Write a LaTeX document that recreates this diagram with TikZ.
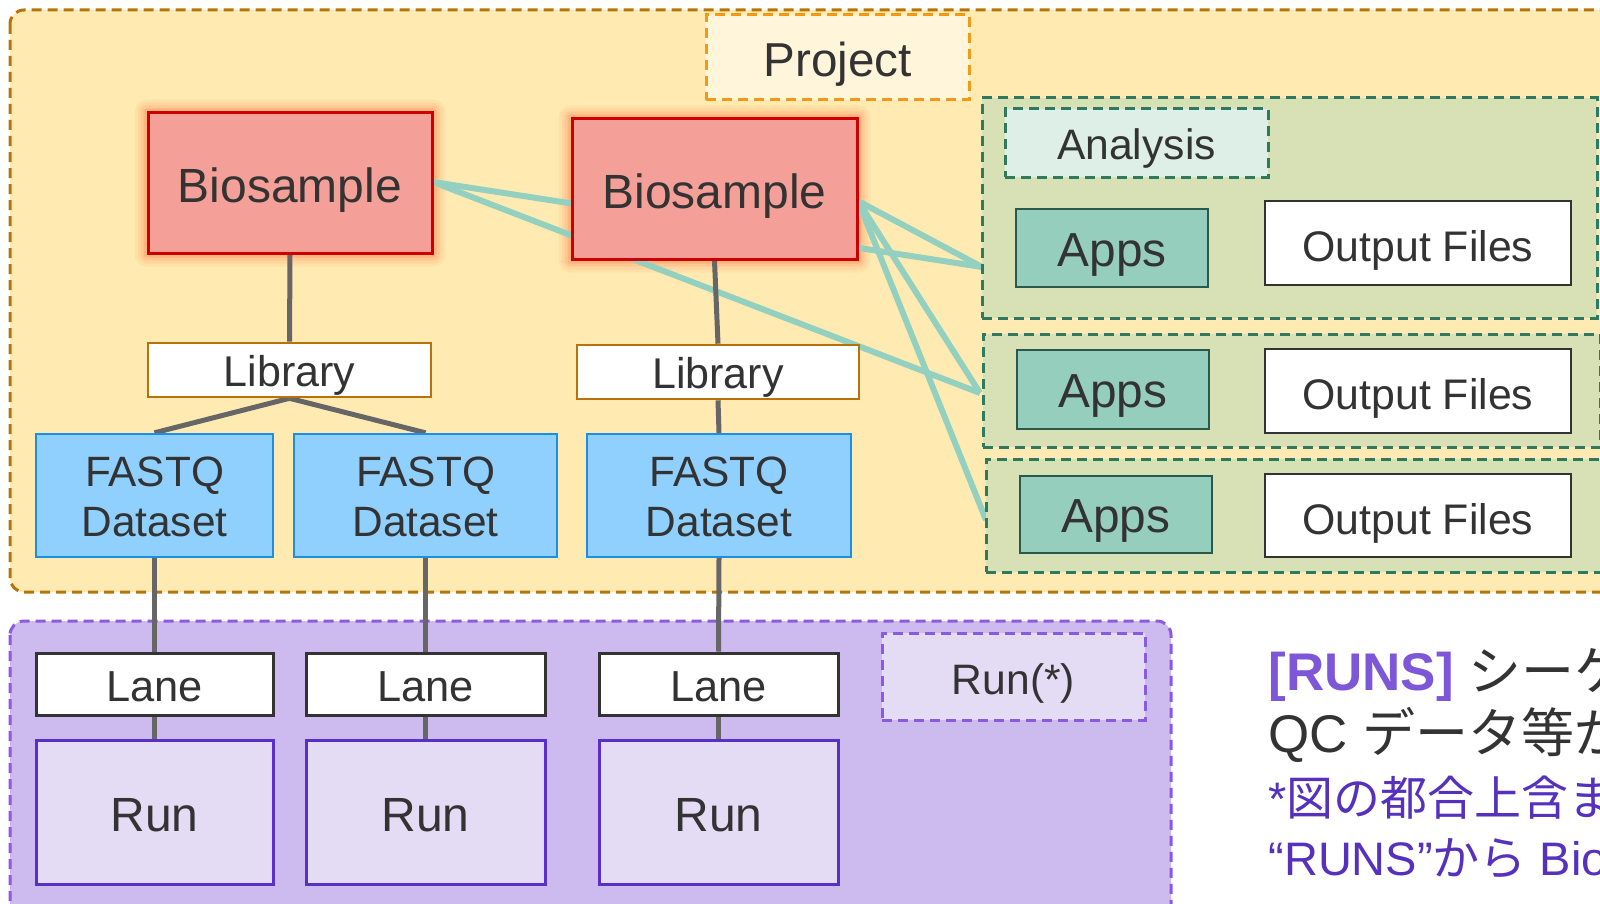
\documentclass[tikz,border=0pt]{standalone}
\usepackage{fontspec}
\setmainfont{Liberation Sans}
\newfontfamily\jpfont{Noto Sans CJK JP}
\usetikzlibrary{calc}
\definecolor{txtc}{HTML}{333333}
\definecolor{projF}{HTML}{FFEBB1}
\definecolor{projB}{HTML}{B7720A}
\definecolor{plabF}{HTML}{FFF5DB}
\definecolor{plabB}{HTML}{F29A17}
\definecolor{bioF}{HTML}{F4A099}
\definecolor{bioB}{HTML}{CC0000}
\definecolor{glowC}{HTML}{FF6A3D}
\definecolor{libB}{HTML}{B7720A}
\definecolor{fqF}{HTML}{90D0FF}
\definecolor{fqB}{HTML}{1A8FE3}
\definecolor{grpF}{HTML}{D8E0B5}
\definecolor{grpB}{HTML}{2F7A5F}
\definecolor{analF}{HTML}{DDEFE7}
\definecolor{appsF}{HTML}{95CEBD}
\definecolor{appsB}{HTML}{28594A}
\definecolor{tealL}{HTML}{93D0C0}
\definecolor{grayL}{HTML}{666666}
\definecolor{runbgF}{HTML}{CDBAEF}
\definecolor{runbgB}{HTML}{8A5BE0}
\definecolor{runF}{HTML}{E4DBF5}
\definecolor{runB}{HTML}{5A2FC8}
\definecolor{runsC}{HTML}{7E57D9}
\definecolor{noteC}{HTML}{5531BE}
\pgfdeclarelayer{bgl}
\pgfdeclarelayer{glowl}
\pgfdeclarelayer{linel}
\pgfsetlayers{bgl,glowl,linel,main}
\begin{document}
\begin{tikzpicture}[x=0.5pt,y=-0.5pt,
  txt/.style={text=txtc, inner sep=0pt, align=center, text depth=0pt},
  dsh/.style={dash pattern=on 5pt off 3pt, line width=1.5pt},
  bio/.style={txt, draw=bioB, fill=bioF, line width=1.5pt, font=\fontsize{24}{28}\selectfont, text height=19.8pt},
  lib/.style={txt, draw=libB, fill=white, line width=1.3pt, font=\fontsize{21.5}{25}\selectfont, text height=16.9pt},
  fq/.style={txt, draw=fqB, fill=fqF, line width=1.2pt, font=\fontsize{21.2}{25}\selectfont, text height=41.2pt},
  lane/.style={txt, draw=txtc, fill=white, line width=1.5pt, font=\fontsize{21.7}{25}\selectfont, text height=17pt},
  runbox/.style={txt, draw=runB, fill=runF, line width=1.5pt, font=\fontsize{24}{28}\selectfont, text height=19.2pt},
  runlab/.style={txt, draw=runbgB, fill=runF, dsh, font=\fontsize{21.3}{25}\selectfont, text height=17.75pt},
  projlab/.style={txt, draw=plabB, fill=plabF, dsh, font=\fontsize{23.8}{27}\selectfont, text height=19pt},
  grp/.style={draw=grpB, fill=grpF, dsh, inner sep=0pt},
  analab/.style={txt, draw=grpB, fill=analF, dsh, font=\fontsize{21.3}{25}\selectfont, text height=16.3pt},
  apps/.style={txt, draw=appsB, fill=appsF, line width=1pt, font=\fontsize{23.9}{27}\selectfont, text height=18.1pt},
  outf/.style={txt, draw=txtc, fill=white, line width=1.2pt, font=\fontsize{21.4}{25}\selectfont, text height=18.8pt},
  tline/.style={draw=tealL, line width=3pt},
  gline/.style={draw=grayL, line width=2.5pt},
  note/.style={anchor=base west, inner sep=0pt, text=txtc}
]
\useasboundingbox (0,0) rectangle (1600,904);

% background groups
\begin{pgfonlayer}{bgl}
\clip (0,0) rectangle (1600,904);
\fill[white] (0,0) rectangle (1600,904);
\draw[fill=projF, draw=projB, dsh, rounded corners=7pt] (10,10) rectangle (1660,592);
\draw[fill=runbgF, draw=runbgB, dsh, rounded corners=7pt] (10,621) rectangle (1171,950);
\end{pgfonlayer}

\clip (0,0) rectangle (1600,904);

% project label
\node[projlab, minimum width=131.5pt, minimum height=42.5pt] (proj) at (837.5,57.5) {Project};

% analysis groups
\node[grp, minimum width=307.5pt, minimum height=110pt] (g1) at (1289.5,208) {};
\node[grp, minimum width=308.5pt, minimum height=56.5pt] (g2) at (1291.5,390.5) {};
\node[grp, minimum width=313pt, minimum height=56.5pt] (g3) at (1299,515.5) {};
\node[analab, minimum width=131.5pt, minimum height=34pt] (anal) at (1136.5,143) {Analysis};

\node[apps, minimum width=96pt, minimum height=39pt] (apps1) at (1112,248) {Apps};
\node[apps, minimum width=96pt, minimum height=39.5pt] (apps2) at (1113,389.5) {Apps};
\node[apps, minimum width=96pt, minimum height=38.5pt] (apps3) at (1116,514.5) {Apps};
\node[outf, minimum width=153pt, minimum height=42pt] (out1) at (1418,243) {Output Files};
\node[outf, minimum width=153pt, minimum height=42pt] (out2) at (1418,391) {Output Files};
\node[outf, minimum width=153pt, minimum height=41.5pt] (out3) at (1418,515.5) {Output Files};

% biosamples etc.
\node[bio, minimum width=142pt, minimum height=70pt] (bio1) at (290,183) {Biosample};
\node[bio, minimum width=142.5pt, minimum height=70pt] (bio2) at (714.5,189) {Biosample};
\node[lib, minimum width=141.5pt, minimum height=27pt] (lib1) at (289.5,370) {Library};
\node[lib, minimum width=141pt, minimum height=27pt] (lib2) at (718,372) {Library};
\node[fq, minimum width=118.5pt, minimum height=61.5pt] (fq1) at (154.5,495.5) {FASTQ\\Dataset};
\node[fq, minimum width=131.5pt, minimum height=61.5pt] (fq2) at (425.5,495.5) {FASTQ\\Dataset};
\node[fq, minimum width=132pt, minimum height=61.5pt] (fq3) at (719,495.5) {FASTQ\\Dataset};

% runs
\node[lane, minimum width=118.5pt, minimum height=31pt] (lane1) at (154.5,684) {Lane};
\node[lane, minimum width=119.5pt, minimum height=31pt] (lane2) at (425.5,684) {Lane};
\node[lane, minimum width=119.5pt, minimum height=31pt] (lane3) at (718.5,684) {Lane};
\node[runbox, minimum width=118.5pt, minimum height=72pt] (run1) at (154.5,812) {Run};
\node[runbox, minimum width=119.5pt, minimum height=72pt] (run2) at (425.5,812) {Run};
\node[runbox, minimum width=119.5pt, minimum height=72pt] (run3) at (718.5,812) {Run};
\node[runlab, minimum width=131.5pt, minimum height=43.5pt] (runstar) at (1013.5,676.5) {Run(*)};

% glow
\begin{pgfonlayer}{glowl}
\foreach \b in {bio1,bio2}{
  \foreach \g/\o in {12/0.07,9/0.09,6/0.13,3/0.2}{
    \fill[glowC, opacity=\o, rounded corners=\g*0.5pt] ($(\b.south west)+(-\g,\g)$) rectangle ($(\b.north east)+(\g,-\g)$);
  }
}
\end{pgfonlayer}

% connectors
\coordinate (b1o) at (433,182);
\coordinate (b2o) at (858,201);
\coordinate (g1i) at (982,267);
\coordinate (g2i) at (980,393);
\coordinate (g3i) at (986,520);
\begin{pgfonlayer}{linel}
\clip (0,0) rectangle (1600,904);
\draw[tline] (b1o) -- (g1i);
\draw[tline] (b1o) -- (g2i);
\draw[tline] (b2o) -- (g1i);
\draw[tline] (b2o) -- (g2i);
\draw[tline] (b2o) -- (g3i);
\draw[tline] (apps1.east |- out1.west) -- (out1.west);
\draw[tline] (apps2.east |- out2.west) -- (out2.west);
\draw[tline] (apps3.east |- out3.west) -- (out3.west);
\draw[gline] (bio1.south) -- (lib1.north);
\draw[gline] (lib1.south) -- (fq1.north);
\draw[gline] (lib1.south) -- (fq2.north);
\draw[gline] (bio2.south) -- (lib2.north);
\draw[gline] (lib2.south) -- (fq3.north);
\draw[gline] (fq1.south) -- (lane1.north);
\draw[gline] (fq2.south) -- (lane2.north);
\draw[gline] (fq3.south) -- (lane3.north);
\draw[gline] (lane1.south) -- (run1.north);
\draw[gline] (lane2.south) -- (run2.north);
\draw[gline] (lane3.south) -- (run3.north);
\end{pgfonlayer}

% notes on the right
\node[note, font=\fontsize{26.5}{30}\selectfont] (n1) at (1268,690) {\textcolor{runsC}{\bfseries [RUNS]} {\jpfont シーケ}};
\node[note, font=\fontsize{26.5}{30}\selectfont] (n2) at (1268,752) {QC {\jpfont データ等が}};
\node[note, font=\fontsize{23.5}{28}\selectfont, text=noteC] (n3) at (1268,815) {*{\jpfont 図の都合上含ま}};
\node[note, font=\fontsize{23.5}{28}\selectfont, text=noteC] (n4) at (1268,875) {“RUNS”{\jpfont から} Bio};
\end{tikzpicture}
\end{document}
